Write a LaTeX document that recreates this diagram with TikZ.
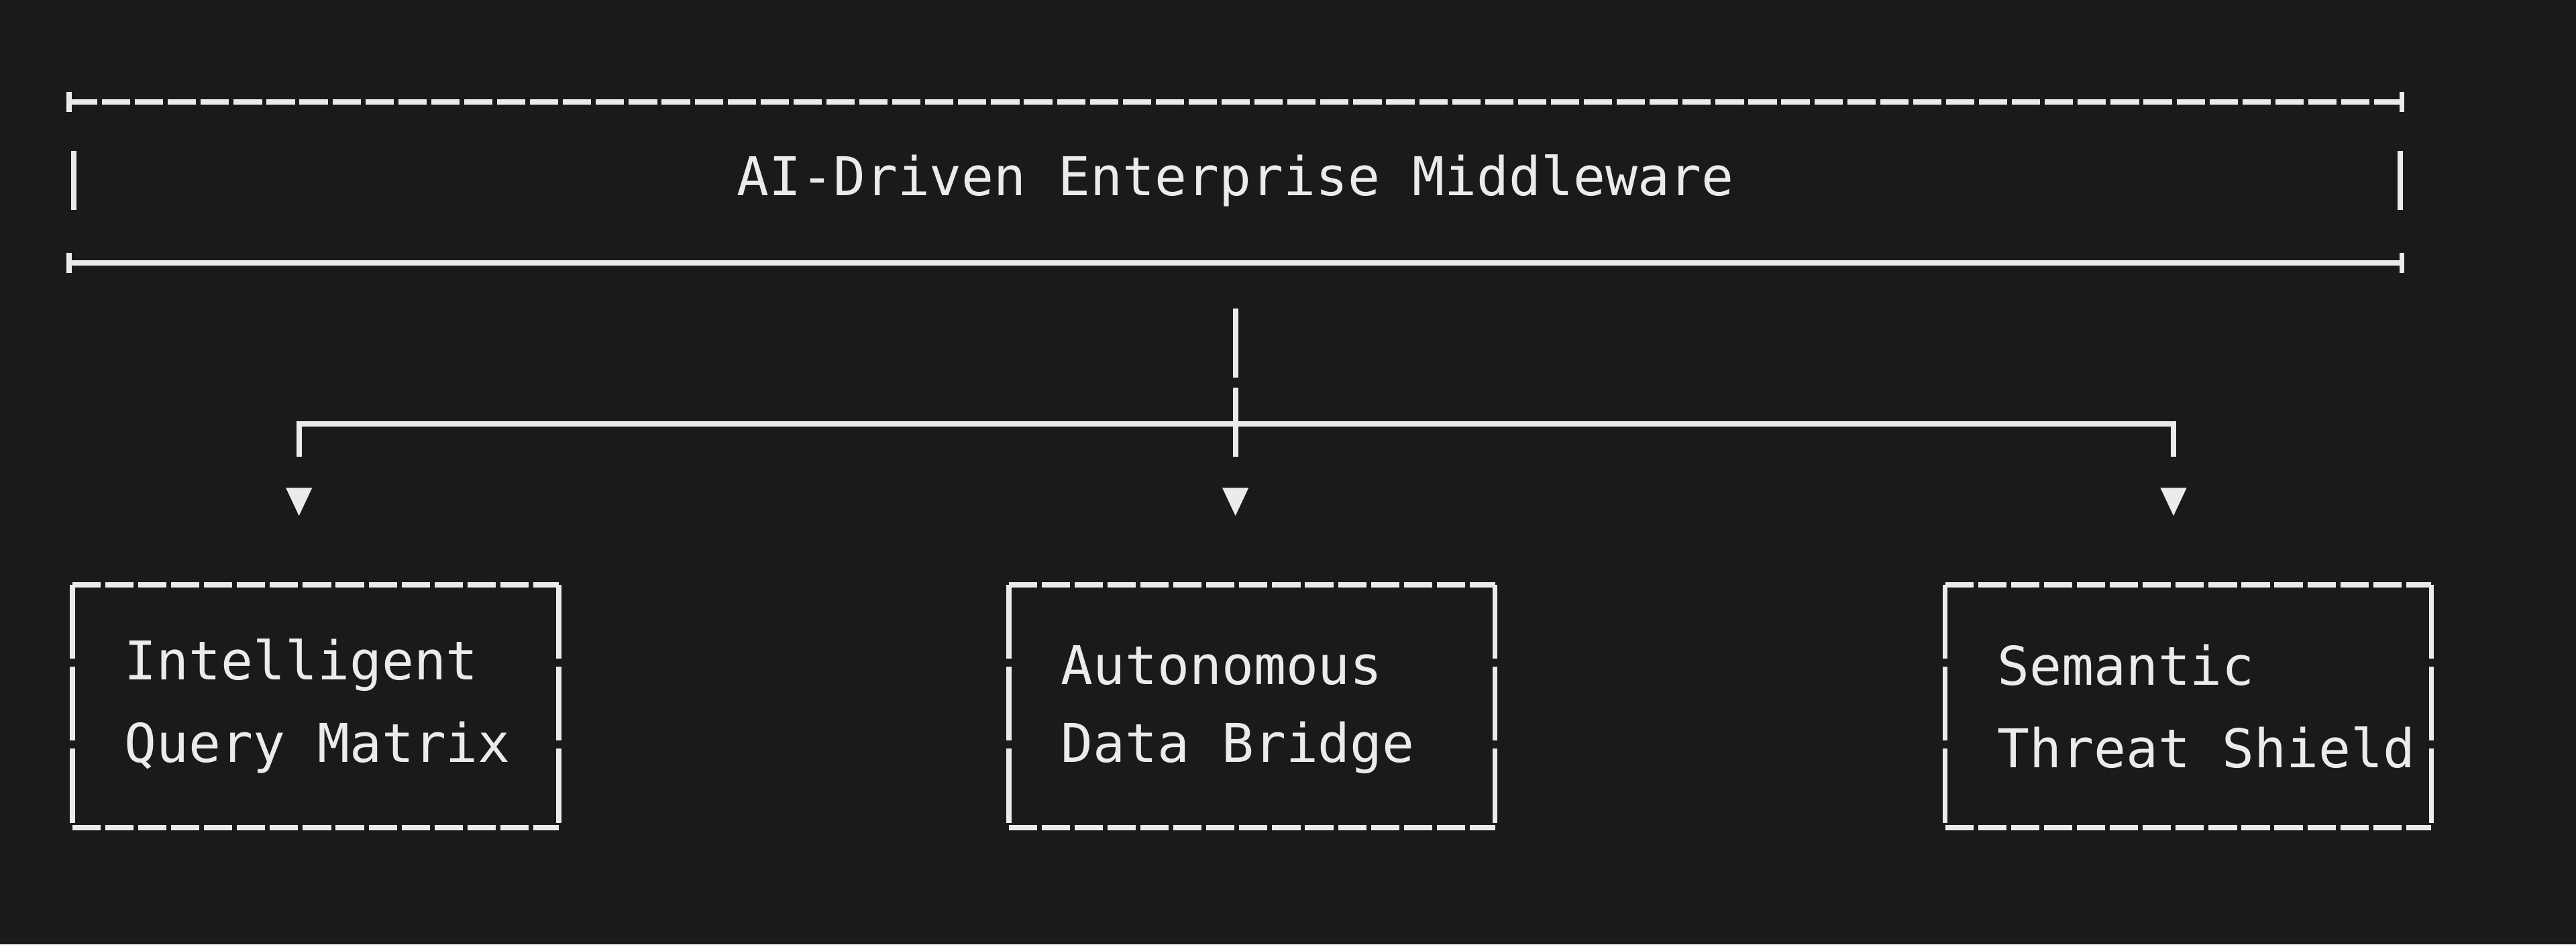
\documentclass[tikz,border=0pt]{standalone}
\usepackage{fontspec}
\setmonofont{DejaVu Sans Mono}
\begin{document}
\begin{tikzpicture}[x=0.01cm,y=-0.01cm,
  ln/.style={draw=white!92!black,line width=0.9pt},
  dl/.style={ln,dash pattern=on 4.9pt off 0.8pt},
  txt/.style={text=white!92!black,font=\ttfamily\fontsize{9.25}{13}\selectfont,inner sep=0pt},
  tip/.style={fill=white!92!black,draw=none}]
\fill[fill={rgb,255:red,26;green,26;blue,26}] (0,0) rectangle (1568,575);
\useasboundingbox (0,0) rectangle (1568,575);
% top box
\draw[dl] (42,62) -- (1462,62);
\draw[ln] (42,160) -- (1462,160);
\foreach \x in {42,1462}{\draw[ln] (\x,56)--(\x,68); \draw[ln] (\x,154)--(\x,166);}
\draw[ln] (45,92)--(45,128);
\draw[ln] (1461,92)--(1461,128);
\node[txt] (title) at (752,110) {AI-Driven Enterprise Middleware};
% connectors
\coordinate (c0) at (752,188);
\coordinate (c1) at (752,278);
\draw[ln] (c0)--(752,230);
\draw[ln] (752,236)--(c1);
\coordinate (l) at (182,258);
\coordinate (r) at (1323,258);
\draw[ln] (182,278)--(l)--(r)--(1323,278);
\foreach \x in {182,752,1323}{\fill[tip] (\x-8,297)--(\x+8,297)--(\x,314)--cycle;}
% boxes
\foreach \x/\n/\a/\b in {44/q/Intelligent/Query Matrix,614/d/Autonomous/Data Bridge,1184/s/Semantic/Threat Shield}{
  \draw[dl] (\x,356)--(\x+296,356);
  \draw[dl] (\x,504)--(\x+296,504);
  \draw[ln,dash pattern=on 12.8pt off 1.4pt] (\x,356)--(\x,504);
  \draw[ln,dash pattern=on 12.8pt off 1.4pt] (\x+296,356)--(\x+296,504);
  \node[txt,anchor=west] (\n1) at (\x+31,405) {\a};
  \node[txt,anchor=west] (\n2) at (\x+31,455) {\b};
}
\end{tikzpicture}
\end{document}
